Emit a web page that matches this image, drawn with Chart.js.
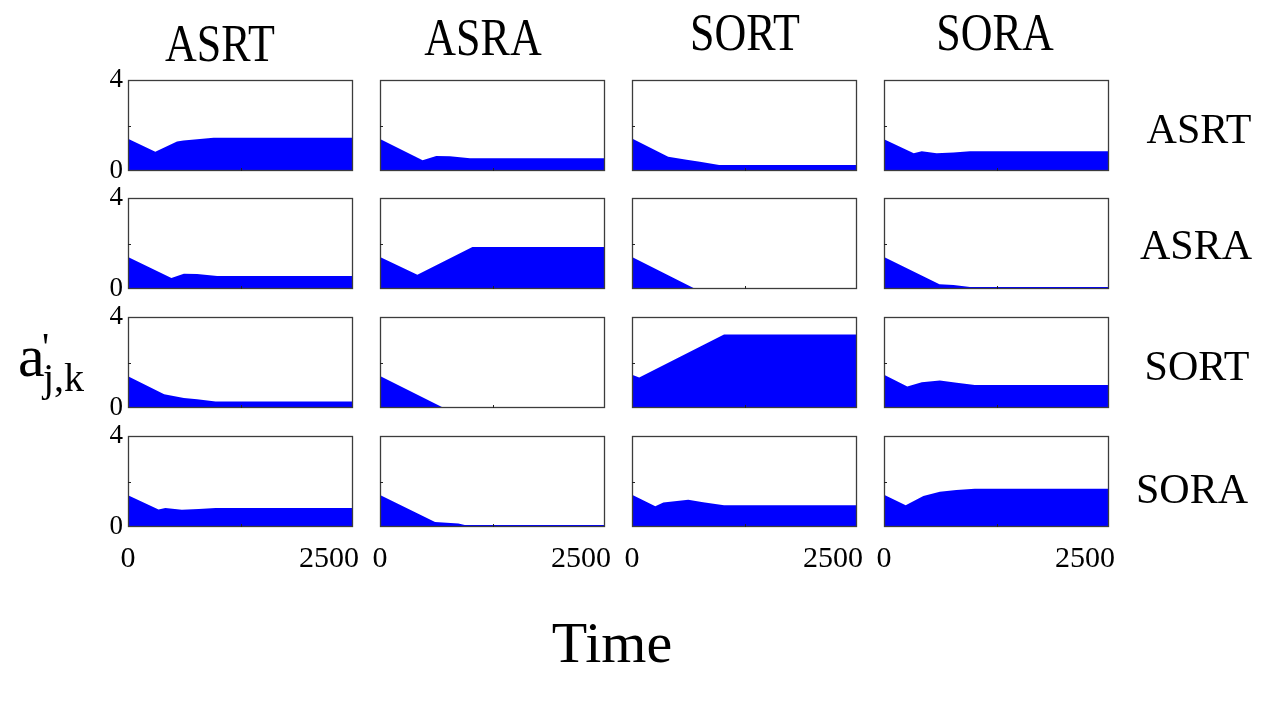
<!DOCTYPE html>
<html>
<head>
<meta charset="utf-8">
<script src="https://cdn.jsdelivr.net/npm/chart.js@4.4.0/dist/chart.umd.min.js"></script>
<style>
  html, body { margin:0; padding:0; background:#fff; }
  body { width:1280px; height:720px; position:relative; overflow:hidden; font-family:"Liberation Serif", "DejaVu Serif", serif; color:#000; }
  canvas.panel { position:absolute; }
  .lbl { position:absolute; line-height:1; white-space:nowrap; font-family:"Liberation Serif", serif; color:#000; }
</style>
</head>
<body>
<script>
// ---- Data (Time vs a'_{j,k}); rows = j, columns = k ----
const strategies = ["ASRT", "ASRA", "SORT", "SORA"];
const xTickLabels = [0, 2500];
const yTickLabels = [0, 4];

// row ASRT
const t_ASRT_ASRT = [0, 340, 610, 690, 1065, 2790];
const v_ASRT_ASRT = [1.42, 0.85, 1.30, 1.34, 1.46, 1.46];
const t_ASRT_ASRA = [0, 530, 700, 870, 1120, 2790];
const v_ASRT_ASRA = [1.41, 0.47, 0.66, 0.65, 0.56, 0.56];
const t_ASRT_SORT = [0, 450, 680, 845, 1085, 2790];
const v_ASRT_SORT = [1.43, 0.63, 0.50, 0.41, 0.26, 0.26];
const t_ASRT_SORA = [0, 370, 470, 655, 865, 1070, 2790];
const v_ASRT_SORA = [1.40, 0.78, 0.87, 0.78, 0.81, 0.87, 0.87];
// row ASRA
const t_ASRA_ASRT = [0, 540, 695, 860, 1110, 2790];
const v_ASRA_ASRT = [1.41, 0.48, 0.67, 0.66, 0.57, 0.57];
const t_ASRA_ASRA = [0, 465, 1150, 2790];
const v_ASRA_ASRA = [1.41, 0.63, 1.85, 1.85];
const t_ASRA_SORT = [0, 790, 2790];
const v_ASRA_SORT = [1.41, 0, 0];
const t_ASRA_SORA = [0, 690, 865, 1070, 2790];
const v_ASRA_SORA = [1.41, 0.21, 0.18, 0.09, 0.09];
// row SORT
const t_SORT_ASRT = [0, 450, 695, 860, 1090, 2790];
const v_SORT_ASRT = [1.40, 0.60, 0.44, 0.38, 0.29, 0.29];
const t_SORT_ASRA = [0, 795, 2790];
const v_SORT_ASRA = [1.41, 0, 0];
const t_SORT_SORT = [0, 90, 1145, 2790];
const v_SORT_SORT = [1.46, 1.34, 3.23, 3.23];
const t_SORT_SORA = [0, 290, 470, 695, 905, 1130, 2790];
const v_SORT_SORA = [1.46, 0.95, 1.13, 1.21, 1.11, 1.01, 1.01];
// row SORA
const t_SORA_ASRT = [0, 380, 465, 670, 880, 1090, 2790];
const v_SORA_ASRT = [1.40, 0.77, 0.83, 0.76, 0.79, 0.83, 0.83];
const t_SORA_ASRA = [0, 685, 975, 1055, 2790];
const v_SORA_ASRA = [1.41, 0.22, 0.15, 0.09, 0.09];
const t_SORA_SORT = [0, 290, 390, 700, 885, 1145, 2790];
const v_SORA_SORT = [1.42, 0.91, 1.08, 1.20, 1.09, 0.96, 0.96];
const t_SORA_SORA = [0, 270, 490, 695, 900, 1130, 2790];
const v_SORA_SORA = [1.42, 0.96, 1.36, 1.55, 1.63, 1.68, 1.68];

const panelData = [
  [[t_ASRT_ASRT, v_ASRT_ASRT], [t_ASRT_ASRA, v_ASRT_ASRA], [t_ASRT_SORT, v_ASRT_SORT], [t_ASRT_SORA, v_ASRT_SORA]],
  [[t_ASRA_ASRT, v_ASRA_ASRT], [t_ASRA_ASRA, v_ASRA_ASRA], [t_ASRA_SORT, v_ASRA_SORT], [t_ASRA_SORA, v_ASRA_SORA]],
  [[t_SORT_ASRT, v_SORT_ASRT], [t_SORT_ASRA, v_SORT_ASRA], [t_SORT_SORT, v_SORT_SORT], [t_SORT_SORA, v_SORT_SORA]],
  [[t_SORA_ASRT, v_SORA_ASRT], [t_SORA_ASRA, v_SORA_ASRA], [t_SORA_SORT, v_SORA_SORT], [t_SORA_SORA, v_SORA_SORA]]
];

// ---- Layout ----
const colLeft = [128, 380, 632, 884];
const rowTop = [80, 198, 317, 436];
const PW = 225, PH = 91;
const PAD_L = 40, PAD_T = 24, PAD_R = 44, PAD_B = 50;

const framePlugin = {
  id: 'frame',
  afterDatasetsDraw(chart) {
    const {ctx, chartArea: a, scales} = chart;
    ctx.save();
    ctx.strokeStyle = '#3c3c3c';
    ctx.lineWidth = 1.3;
    ctx.strokeRect(a.left + 0.5, a.top + 0.5, a.right - a.left - 1, a.bottom - a.top - 1);
    // small inward tick marks
    ctx.lineWidth = 1;
    ctx.strokeStyle = '#222';
    const yp = Math.round(scales.y.getPixelForValue(2)) + 0.5;
    ctx.beginPath(); ctx.moveTo(a.left, yp); ctx.lineTo(a.left + 3, yp); ctx.stroke();
    const xp = Math.round(scales.x.getPixelForValue(1400)) + 0.5;
    ctx.beginPath(); ctx.moveTo(xp, a.bottom); ctx.lineTo(xp, a.bottom - 3); ctx.stroke();
    ctx.restore();
  }
};

for (let r = 0; r < 4; r++) {
  for (let c = 0; c < 4; c++) {
    const cv = document.createElement('canvas');
    cv.className = 'panel';
    const W = PW + PAD_L + PAD_R, H = PH + PAD_T + PAD_B;
    cv.width = W; cv.height = H;
    cv.style.left = (colLeft[c] - PAD_L) + 'px';
    cv.style.top = (rowTop[r] - PAD_T) + 'px';
    cv.style.width = W + 'px'; cv.style.height = H + 'px';
    document.body.appendChild(cv);
    const [ts, vs] = panelData[r][c];
    const pts = ts.map((t, i) => ({x: t, y: vs[i]}));
    new Chart(cv.getContext('2d'), {
      type: 'line',
      data: { datasets: [{
        data: pts, fill: 'origin', backgroundColor: '#0000ff',
        borderWidth: 0, borderColor: 'rgba(0,0,0,0)', pointRadius: 0, tension: 0
      }]},
      options: {
        responsive: false, animation: false, devicePixelRatio: 1,
        layout: { padding: { left: 0, top: PAD_T, right: PAD_R, bottom: 0 } },
        plugins: { legend: { display: false }, tooltip: { enabled: false }, title: { display: false } },
        scales: {
          x: {
            type: 'linear', min: 0, max: 2800,
            grid: { display: false, drawTicks: false },
            border: { display: false },
            afterBuildTicks: s => { s.ticks = xTickLabels.map(v => ({value: v})); },
            afterFit: s => { s.height = PAD_B; },
            ticks: { display: r === 3, padding: 14, color: '#000', maxRotation: 0, autoSkip: false,
                     font: { family: 'Liberation Serif', size: 30 },
                     callback: v => String(v) }
          },
          y: {
            type: 'linear', min: 0, max: 4,
            grid: { display: false, drawTicks: false },
            border: { display: false },
            afterBuildTicks: s => { s.ticks = yTickLabels.map(v => ({value: v})); },
            afterFit: s => { s.width = PAD_L; },
            ticks: { display: c === 0, padding: 5, color: '#000', autoSkip: false,
                     font: { family: 'Liberation Serif', size: 27 },
                     callback: v => String(v) }
          }
        }
      },
      plugins: [framePlugin]
    });
  }
}

// ---- Text labels ----
function addLabel(text, left, top, size, extraStyle) {
  const d = document.createElement('div');
  d.className = 'lbl';
  d.textContent = text;
  d.style.left = left + 'px';
  d.style.top = top + 'px';
  d.style.fontSize = size + 'px';
  if (extraStyle) Object.assign(d.style, extraStyle);
  document.body.appendChild(d);
  return d;
}
// column titles (k)
const titleCx = [220, 483, 745, 995];
const titleCy = [44, 38, 33, 33];
strategies.forEach((s, i) => {
  addLabel(s, titleCx[i] - 100, titleCy[i] - 22, 44,
    { width: '200px', textAlign: 'center', transform: 'scaleY(1.2)', transformOrigin: '50% 22px' });
});
// row labels (j)
const rowCx = [1199, 1196, 1197, 1192];
const rowCy = [129, 245, 366, 489];
strategies.forEach((s, i) => {
  addLabel(s, rowCx[i] - 100, rowCy[i] - 21, 42, { width: '200px', textAlign: 'center' });
});
// axis titles
addLabel('Time', 612 - 100, 614, 58, { width: '200px', textAlign: 'center' });
addLabel('a', 18, 326, 60);
addLabel("'", 42, 327, 40);
addLabel('j,k', 43, 358, 40);
</script>
</body>
</html>
